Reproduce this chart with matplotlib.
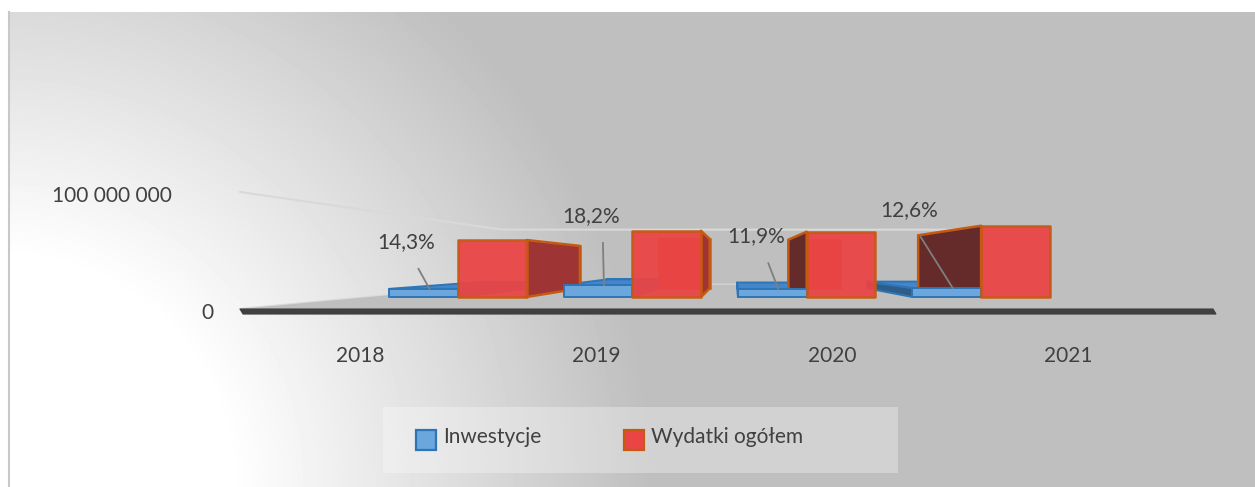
import numpy as np
import matplotlib.pyplot as plt
from matplotlib.patches import Polygon, Rectangle

# Data
years = ['2018', '2019', '2020', '2021']
wydatki = [65.9e6, 76.6e6, 75.5e6, 82.4e6]      # Wydatki ogółem
inwestycje = [9.4e6, 13.9e6, 9.0e6, 10.4e6]     # Inwestycje
udzial = ['14,3%', '18,2%', '11,9%', '12,6%']   # share of investments
y_ticks = [0, 100e6]
y_tick_labels = ['0', '100 000 000']
series_names = ['Inwestycje', 'Wydatki ogółem']

plt.rcParams['font.family'] = ['Lato', 'DejaVu Sans']
TXT = '#404040'

# Simple one-point perspective (screen pixels, y down)
VX, VY = 735, 263          # vanishing point
FLOOR_Y = 309              # floor front edge
PX_PER_UNIT = 117 / 100e6  # pixels per unit at the front plane
S_FRONT, S_BACK, S_WALL = 0.739, 0.55, 0.47
FLOOR_X0, FLOOR_X1 = 240, 1213
CAT_X0, CAT_DX = 360, 236
BAR_W = 93


def proj(x, s, z):
    return VX + s * (x - VX), VY + s * (FLOOR_Y - VY) - s * z * PX_PER_UNIT


fig = plt.figure(figsize=(12.55, 4.87), dpi=100)
ax = fig.add_axes([0, 0, 1, 1])

# Background: gradient from the bottom-left corner
H, W = 475, 1246
yy, xx = np.mgrid[0:H, 0:W]
r = np.hypot(xx + 9, 487 - (12 + yy))
g = np.interp(r, [0, 230, 330, 475, 650], [255, 255, 240, 218, 191]) / 255
ax.imshow(g, cmap='gray', vmin=0, vmax=1, extent=(9, 1255, 487, 12),
          aspect='auto', interpolation='bilinear', zorder=0)
ax.plot([8.5, 8.5], [12, 487], color='#c8c8c8', lw=1.5, zorder=1)
ax.set_xlim(0, 1255)
ax.set_ylim(487, 0)
ax.axis('off')

# Gridlines on left and back wall
for v in y_ticks:
    pts = [proj(FLOOR_X0, 1, v), proj(FLOOR_X0, S_WALL, v), proj(FLOOR_X1, S_WALL, v)]
    ax.plot([p[0] for p in pts], [p[1] for p in pts], color='#d9d9d9', lw=1.5, zorder=1)

# Floor top and front slab
floor = [proj(FLOOR_X0, 1, 0), proj(FLOOR_X1, 1, 0), proj(FLOOR_X1, S_WALL, 0), proj(FLOOR_X0, S_WALL, 0)]
ax.add_patch(Polygon(floor, closed=True, fc='#bfbfbf', ec='none', zorder=2))
slab = [proj(FLOOR_X0, 1, 0), proj(FLOOR_X1, 1, 0), proj(FLOOR_X1 + 3, 1, -4.3e6), proj(FLOOR_X0 + 3, 1, -4.3e6)]
ax.add_patch(Polygon(slab, closed=True, fc='#404040', ec='#404040', lw=0.8, zorder=2))

styles = [
    dict(front='#6ba6dc', top='#4585ca', left='#2f5d8a', right='#3d78b8', edge='#2e75b6', lw=1.4, alpha=1.0),
    dict(front='#ea4444', top='#c83c3c', left='#652a2a', right='#9e3434', edge='#c55a11', lw=1.8, alpha=0.94),
]
series = [inwestycje, wydatki]
z_eye = (FLOOR_Y - VY) / PX_PER_UNIT


def bar_faces(x0, x1, h):
    P = proj
    back = [P(x0, S_BACK, 0), P(x1, S_BACK, 0), P(x1, S_BACK, h), P(x0, S_BACK, h)]
    front = [P(x0, S_FRONT, 0), P(x1, S_FRONT, 0), P(x1, S_FRONT, h), P(x0, S_FRONT, h)]
    sides = []
    if x0 > VX:
        sides.append(('left', [P(x0, S_FRONT, 0), P(x0, S_BACK, 0), P(x0, S_BACK, h), P(x0, S_FRONT, h)]))
    if x1 < VX:
        sides.append(('right', [P(x1, S_FRONT, 0), P(x1, S_BACK, 0), P(x1, S_BACK, h), P(x1, S_FRONT, h)]))
    if h < z_eye:
        sides.append(('top', [P(x0, S_FRONT, h), P(x1, S_FRONT, h), P(x1, S_BACK, h), P(x0, S_BACK, h)]))
    return back, sides, front


# back faces and sides first, fronts last
fronts = []
for k, vals in enumerate(series):
    st = styles[k]
    for i, v in enumerate(vals):
        xc = CAT_X0 + CAT_DX * i
        x0 = xc - BAR_W if k == 0 else xc
        back, sides, front = bar_faces(x0, x0 + BAR_W, v)
        ax.add_patch(Polygon(back, closed=True, fc=st['front'], ec=st['edge'], lw=st['lw'],
                             alpha=st['alpha'], zorder=3))
        for name, pts in sides:
            ax.add_patch(Polygon(pts, closed=True, fc=st[name], ec=st['edge'], lw=st['lw'],
                                 zorder=4, joinstyle='round'))
        fronts.append((front, st))

for front, st in fronts:
    ax.add_patch(Polygon(front, closed=True, fc=st['front'], ec=st['edge'], lw=st['lw'],
                         alpha=st['alpha'], zorder=5, joinstyle='round'))

# Data labels (share of investments) with leader lines
label_off = [(-17, -41), (-7, -63), (-16, -47), (-38, -72)]
for i, v in enumerate(inwestycje):
    xc = CAT_X0 + CAT_DX * i
    ax_, ay_ = proj(xc - BAR_W / 2, S_FRONT, v)
    lx, ly = ax_ + label_off[i][0], ay_ + label_off[i][1]
    ax.text(lx, ly, udzial[i], ha='center', va='baseline', fontsize=15, color=TXT, zorder=10)
    ax.plot([lx + 12, ax_ + 6], [ly + 21, ay_], color='#7f7f7f', lw=1.3, zorder=9)

# Value axis labels
tick_pad = [26, 68]
for v, lab, pad in zip(y_ticks, y_tick_labels, tick_pad):
    px, py = proj(FLOOR_X0, 1, v)
    ax.text(px - pad, py + 10, lab, ha='right', va='baseline', fontsize=15, color=TXT, zorder=10)

# Category labels
for i, yr in enumerate(years):
    ax.text(CAT_X0 + CAT_DX * i, 362, yr, ha='center', va='baseline', fontsize=15, color=TXT, zorder=10)

# Legend
ax.add_patch(Rectangle((383, 407), 515, 66, fc='white', ec='none', alpha=0.3, zorder=6))
leg_x = [416, 624]
for k, name in enumerate(series_names):
    st = styles[k]
    ax.add_patch(Rectangle((leg_x[k], 430), 20, 20, fc=st['front'], ec=st['edge'], lw=1.6, zorder=7))
    ax.text(leg_x[k] + 27, 443, name, ha='left', va='baseline', fontsize=15, color=TXT, zorder=10)

fig.savefig('out.png', dpi=100)
